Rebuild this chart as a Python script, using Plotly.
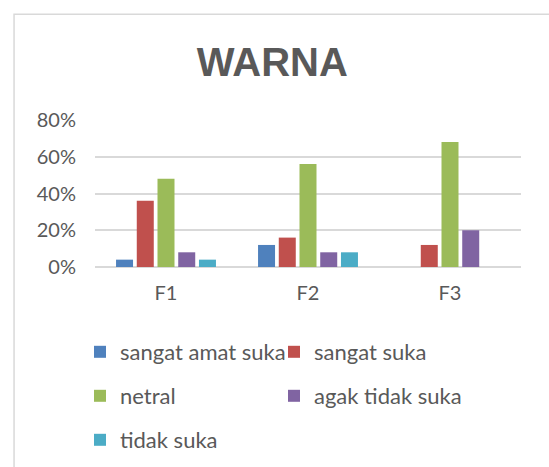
import plotly.graph_objects as go

categories = ["F1", "F2", "F3"]
series_names = ["sangat amat suka", "sangat suka", "netral", "agak tidak suka", "tidak suka"]
sangat_amat_suka = [4, 12, 0]
sangat_suka = [36, 16, 12]
netral = [48, 56, 68]
agak_tidak_suka = [8, 8, 20]
tidak_suka = [4, 8, 0]

values = [sangat_amat_suka, sangat_suka, netral, agak_tidak_suka, tidak_suka]
colors = ["#4F81BD", "#C0504D", "#9BBB59", "#8064A2", "#4BACC6"]
legend_ids = ["legend", "legend", "legend2", "legend2", "legend3"]

text_color = "#595959"
grid_color = "#D9D9D9"

data = []
for name, vals, col, lg in zip(series_names, values, colors, legend_ids):
    data.append(go.Bar(name=name, x=categories, y=vals, marker=dict(color=col, line=dict(width=0)),
                       legend=lg))

fig = go.Figure(data=data)

# legends are placed in container coordinates so they don't push the margins
legend_style = dict(orientation="h", xref="container", yref="container",
                    xanchor="left", yanchor="middle", x=80 / 549,
                    font=dict(family="Lato, Noto Sans, sans-serif", size=22, color=text_color),
                    entrywidth=149, entrywidthmode="pixels", bgcolor="rgba(0,0,0,0)")

fig.update_layout(
    width=549, height=467,
    margin=dict(l=95, r=28, t=120, b=200, autoexpand=False),
    paper_bgcolor="white", plot_bgcolor="white",
    barmode="group", bargap=0.27, bargroupgap=0.18,
    title=dict(text="<b>WARNA</b>", x=0.496, xanchor="center", y=1 - 62 / 467, yanchor="middle",
               font=dict(family="Liberation Sans, Arial, sans-serif", size=40, color=text_color)),
    font=dict(family="Lato, Noto Sans, sans-serif", size=20, color=text_color),
    legend=dict(y=1 - 352 / 467, **legend_style),
    legend2=dict(y=1 - 396 / 467, **legend_style),
    legend3=dict(y=1 - 440 / 467, **legend_style),
    shapes=[dict(type="rect", xref="paper", yref="paper", x0=-0.19, x1=1.2, y0=-1.6, y1=1.72,
                 line=dict(color="#D9D9D9", width=1.5), fillcolor="rgba(0,0,0,0)", layer="below")],
)

fig.update_yaxes(range=[0, 80], dtick=20, ticksuffix="%", showgrid=True, gridcolor=grid_color,
                 gridwidth=1.5, zeroline=True, zerolinecolor=grid_color, zerolinewidth=1.5,
                 showline=False, ticks="", ticklabelstandoff=18,
                 tickfont=dict(size=20, color=text_color))
fig.update_xaxes(showgrid=False, showline=False, ticks="", ticklabelstandoff=12,
                 tickfont=dict(size=20, color=text_color))

# drop the default body margin so the figure sits at the top-left corner of the page
fig.write_html("out.html", config={"displayModeBar": False},
               post_script="document.body.style.margin='0';")
